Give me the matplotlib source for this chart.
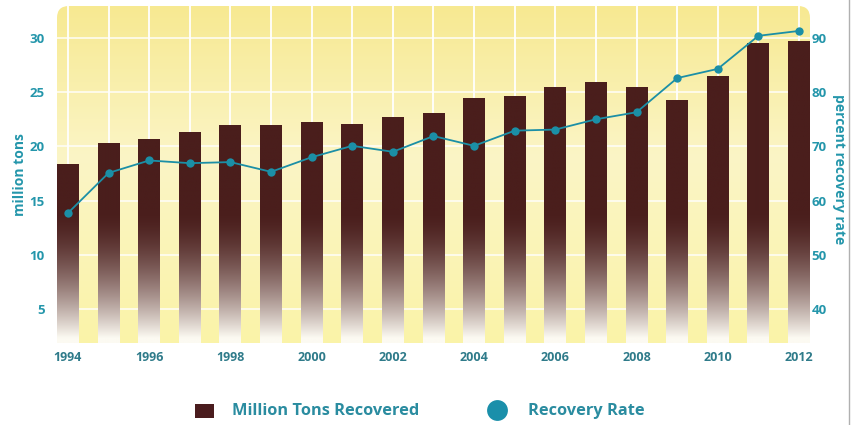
import numpy as np
import matplotlib.pyplot as plt
from matplotlib.patches import FancyBboxPatch, Rectangle
from matplotlib.lines import Line2D

# data
years = list(range(1994, 2013))
tons = [18.35, 20.25, 20.65, 21.27, 21.94, 21.94, 22.16, 22.04, 22.65, 23.05,
        24.46, 24.56, 25.45, 25.88, 25.45, 24.19, 26.40, 29.47, 29.63]
rate = [57.7, 65.1, 67.4, 66.9, 67.1, 65.3, 68.0, 70.1, 69.0, 71.9,
        70.1, 72.9, 73.1, 75.0, 76.3, 82.6, 84.3, 90.4, 91.3]
left_ticks = [5, 10, 15, 20, 25, 30]
right_ticks = [40, 50, 60, 70, 80, 90]
x_labels = [str(y) if y % 2 == 0 else "" for y in years]

BROWN = np.array([74, 30, 28]) / 255
PALE = np.array([252, 250, 242]) / 255
TEAL = "#1b8fa6"
TICK_TEAL = "#2496ab"
XTICK = "#2f7b8a"
FONT = "Open Sans"

W, H = 851, 425
fig = plt.figure(figsize=(W / 100, H / 100), dpi=100)

# axes box in pixels: x 57..810, y 6..343
x0, x1, y0, y1 = 57, 810, 6, 343
ax = fig.add_axes([x0 / W, 1 - y1 / H, (x1 - x0) / W, (y1 - y0) / H])
half = 0.27
xlim = (years[0] - half, years[-1] + half)
ylim = (1.86, 32.95)

# yellow background with rounded top corners
bg = np.zeros((200, 2, 3))
top = np.array([247, 233, 145]) / 255
mid = np.array([251, 245, 198]) / 255
bot = np.array([250, 243, 168]) / 255
for i in range(200):
    t = i / 199  # 0 bottom -> 1 top
    if t > 0.55:
        c = mid + (top - mid) * ((t - 0.55) / 0.45)
    else:
        c = bot + (mid - bot) * (t / 0.55)
    bg[i, :, :] = c
img = ax.imshow(bg, extent=[xlim[0], xlim[1], ylim[0], ylim[1]],
                origin="lower", aspect="auto", zorder=0, interpolation="bilinear")
clip = FancyBboxPatch((x0 / W, 1 - y1 / H), (x1 - x0) / W, (y1 - y0) / H,
                      boxstyle="round,pad=0,rounding_size=0.014",
                      mutation_aspect=W / H, transform=fig.transFigure,
                      facecolor="none", edgecolor="none")
fig.add_artist(clip)
img.set_clip_path(clip)

# white grid, under the bars
for v in left_ticks:
    ax.axhline(v, color="white", linewidth=1.2, alpha=0.85, zorder=1)
for yr in years:
    ax.axvline(yr, color="white", linewidth=1.3, zorder=1)

# bars fading to white at the bottom
for yr, h in zip(years, tons):
    n = 300
    ys = np.linspace(ylim[0], h, n)
    t = np.clip((ys - 2.3) / (14.0 - 2.3), 0, 1)
    f = 1 - (1 - t) ** 1.6
    arr = PALE[None, :] * (1 - f[:, None]) + BROWN[None, :] * f[:, None]
    arr = arr[:, None, :].repeat(2, axis=1)
    ax.imshow(arr, extent=[yr - half, yr + half, ylim[0], h], origin="lower",
              aspect="auto", zorder=2, interpolation="bilinear")

ax.set_xlim(*xlim)
ax.set_ylim(*ylim)
ax.set_xticks(years)
ax.set_xticklabels(x_labels)
ax.set_yticks(left_ticks)
for s in ax.spines.values():
    s.set_visible(False)
ax.tick_params(axis="y", length=0, pad=9, labelcolor=TICK_TEAL, labelsize=9.5)
ax.tick_params(axis="x", length=0, pad=6, labelcolor=XTICK, labelsize=9)
for lab in ax.get_yticklabels() + ax.get_xticklabels():
    lab.set_fontweight("bold")
    lab.set_fontfamily(FONT)

ax2 = ax.twinx()
ax2.grid(False)
ax2.plot(years, rate, color=TEAL, linewidth=1.3, marker="o", markersize=6,
         markeredgewidth=0, zorder=5)
ax2.set_ylim(2 * ylim[0] + 30, 2 * ylim[1] + 30)
ax2.set_yticks(right_ticks)
for s in ax2.spines.values():
    s.set_visible(False)
ax2.tick_params(axis="y", length=0, pad=1, labelcolor=TICK_TEAL, labelsize=9.5)
for lab in ax2.get_yticklabels():
    lab.set_fontweight("bold")
    lab.set_fontfamily(FONT)

fig.text(20 / W, 1 - 175 / H, "million tons", rotation=90, ha="center",
         va="center", color=TICK_TEAL, fontsize=10, fontweight="bold", family=FONT)
fig.text(839 / W, 1 - 169 / H, "percent recovery rate", rotation=270,
         ha="center", va="center", color=TICK_TEAL, fontsize=10,
         fontweight="bold", family=FONT)

# legend
fig.add_artist(Rectangle((195 / W, 1 - 418 / H), 19 / W, 14 / H,
                         transform=fig.transFigure, facecolor="#4a1c1e",
                         edgecolor="none"))
fig.text(232 / W, 1 - 411 / H, "Million Tons Recovered", ha="left", va="center",
         color="#2a8ca0", fontsize=11.8, fontweight="bold", family=FONT)
fig.add_artist(Line2D([497 / W], [1 - 410 / H], transform=fig.transFigure,
                      marker="o", markersize=15, color="#1a8faa",
                      markeredgewidth=0, linestyle="none"))
fig.text(528 / W, 1 - 411 / H, "Recovery Rate", ha="left", va="center",
         color="#2a8ca0", fontsize=11.8, fontweight="bold", family=FONT)

# thin border at right edge
fig.add_artist(Line2D([849 / W, 849 / W], [0, 1], transform=fig.transFigure,
                      color="#b0b0b0", linewidth=1))

fig.savefig("out.png", dpi=100)
